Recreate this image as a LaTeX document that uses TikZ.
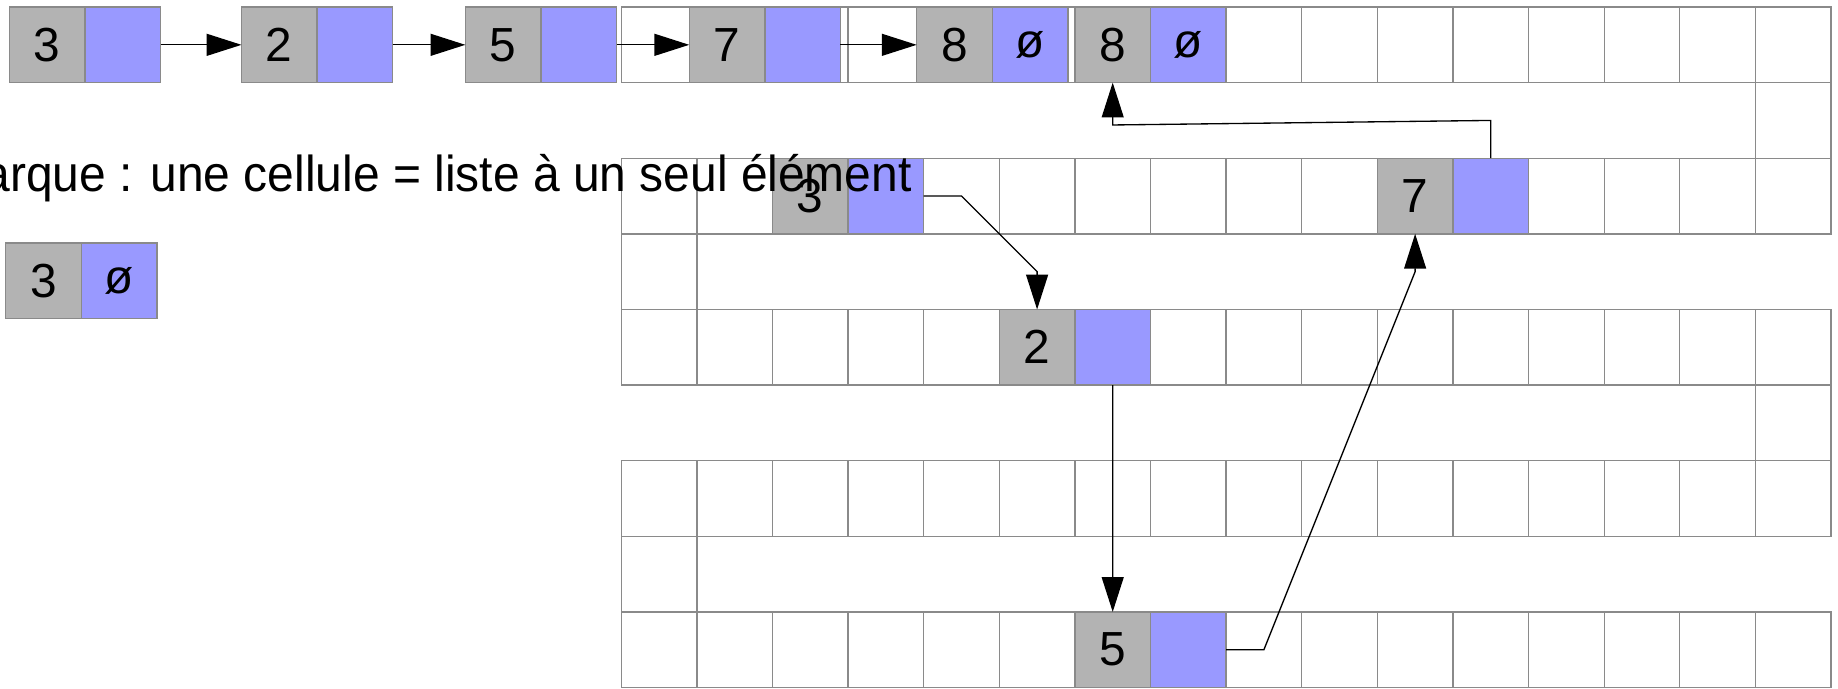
\documentclass[tikz,border=0pt]{standalone}
\usepackage{fontspec}
\setmainfont{Liberation Sans}
\newfontfamily\remfont[FakeStretch=0.95]{Liberation Sans}
\usetikzlibrary{positioning, arrows.meta}
\definecolor{Valeur}{HTML}{B3B3B3}
\definecolor{Suivant}{HTML}{9999FF}
\definecolor{Bord}{HTML}{8A8A8A}
\tikzset{
    valcell/.style={rectangle, draw=Bord, fill=Valeur, minimum width=1cm, minimum height=1cm, inner sep=0pt, outer sep=0pt, line width=0.5pt, font=\fontsize{18}{22}\selectfont},
    suivcell/.style={valcell, fill=Suivant},
    grille/.style={draw=Bord, line width=0.5pt},
    lien/.style={-{Triangle[length=4.6mm, width=2.9mm]}, line width=0.5pt, color=black},
}

\begin{document}
\begin{tikzpicture}
    \useasboundingbox (-8.217,-9.008) rectangle (16.093,0.093);

    % Grille memoire (lignes pleines + cases de liaison)
    \foreach \r in {0,-2,-4,-6,-8}
        \foreach \c in {0,...,15}
            \draw[grille] (\c,\r) rectangle ++(1,-1);
    \foreach \c/\r in {15/-1, 0/-3, 15/-5, 0/-7}
        \draw[grille] (\c,\r) rectangle ++(1,-1);

    % Liste chainee en haut
    \node[valcell] (t3v) at (-7.593,-0.5) {3};
    \node[suivcell, right=0pt of t3v] (t3n) {};
    \node[valcell] (t2v) at (-4.523,-0.5) {2};
    \node[suivcell, right=0pt of t2v] (t2n) {};
    \node[valcell] (t5v) at (-1.562,-0.5) {5};
    \node[suivcell, right=0pt of t5v] (t5n) {};
    \node[valcell] (t7v) at (1.399,-0.5) {7};
    \node[suivcell, right=0pt of t7v] (t7n) {};
    \node[valcell] (t8v) at (4.407,-0.5) {8};
    \node[suivcell, right=0pt of t8v] (t8n) {ø};

    % Cellule seule
    \node[valcell] (s3v) at (-7.64,-3.62) {3};
    \node[suivcell, right=0pt of s3v] (s3n) {ø};

    % Cellules dans la memoire
    \node[valcell] (m8v) at (6.5,-0.5) {8};
    \node[suivcell, right=0pt of m8v] (m8n) {ø};
    \node[valcell] (m3v) at (2.5,-2.5) {3};
    \node[suivcell, right=0pt of m3v] (m3n) {};
    \node[valcell] (m7v) at (10.5,-2.5) {7};
    \node[suivcell, right=0pt of m7v] (m7n) {};
    \node[valcell] (m2v) at (5.5,-4.5) {2};
    \node[suivcell, right=0pt of m2v] (m2n) {};
    \node[valcell] (m5v) at (6.5,-8.5) {5};
    \node[suivcell, right=0pt of m5v] (m5n) {};

    % Remarque
    \node[anchor=base east, inner sep=0pt, font=\remfont\fontsize{19}{23}\selectfont] (rem) at (3.85,-2.44) {Remarque : une cellule = liste à un seul élément};

    % Liens
    \draw[lien] (t3n.east) -- (t2v.west);
    \draw[lien] (t2n.east) -- (t5v.west);
    \draw[lien] (t5n.east) -- (t7v.west);
    \draw[lien] (t7n.east) -- (t8v.west);
    \draw[lien] (m3n.east) -- ++(0.5,0) -- ([yshift=5mm]m2v.north) -- (m2v.north);
    \draw[lien] (m2n.south) -- (m5v.north);
    \draw[lien] (m5n.east) -- ++(0.5,0) -- ([yshift=-5mm]m7v.south) -- (m7v.south);
    \draw[lien] (m7n.north) -- ++(0,0.5) -- ([yshift=-5.6mm]m8v.south) -- (m8v.south);
\end{tikzpicture}
\end{document}
